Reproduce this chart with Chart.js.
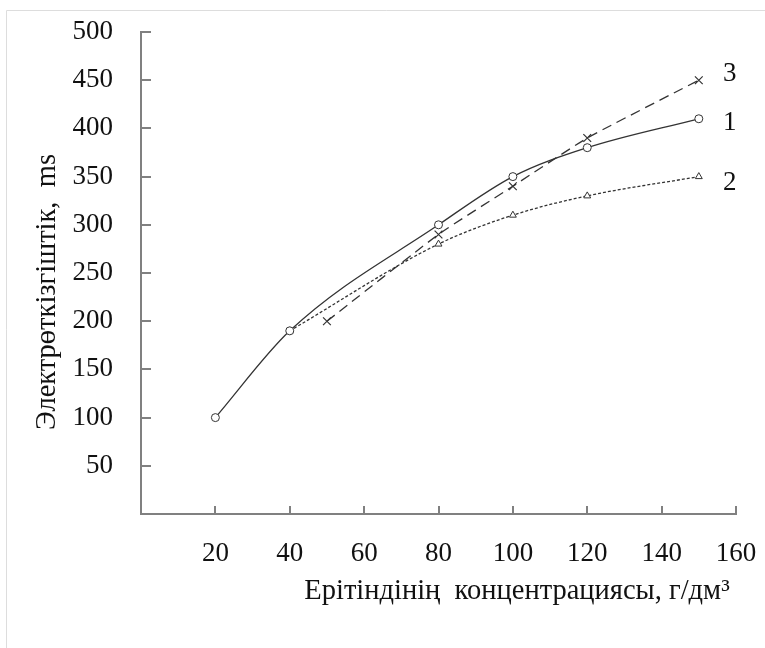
<!DOCTYPE html>
<html>
<head>
<meta charset="utf-8">
<script src="https://cdn.jsdelivr.net/npm/chart.js@4.4.0/dist/chart.umd.min.js"></script>
<style>
  body { margin: 0; background: #fff; }
  canvas { display: block; }
</style>
</head>
<body>
<canvas id="myChart" width="765" height="648"></canvas>
<script>
// curve 1 (circles, solid), curve 2 (triangles, dotted), curve 3 (crosses, dashed)
const conc1 = [20, 40, 80, 100, 120, 150];
const cond1 = [100, 190, 300, 350, 380, 410];
const conc2 = [40, 80, 100, 120, 150];
const cond2 = [190, 280, 310, 330, 350];
const conc3 = [50, 80, 100, 120, 150];
const cond3 = [200, 290, 340, 390, 450];
const curveTags = ['1', '2', '3'];
const xTitle = 'Ерітіндінің  концентрациясы, г/дм³';
const yTitle = 'Электрөткізгіштік,  ms';

const FONT = "'Liberation Serif', 'Times New Roman', serif";
const INK = '#333';
const AXIS = '#808080';

function pts(xs, ys) {
    return xs.map((x, i) => ({x: x, y: ys[i]}));
}

function noPad(s) {
    s.paddingTop = 0;
    s.paddingBottom = 0;
    s.paddingLeft = 0;
    s.paddingRight = 0;
}

const extras = {
    id: 'extras',
    beforeDraw(chart) {
        const ctx = chart.ctx;
        ctx.save();
        ctx.strokeStyle = '#ddd';
        ctx.lineWidth = 1;
        ctx.beginPath();
        ctx.moveTo(6.5, 700);
        ctx.lineTo(6.5, 10.5);
        ctx.lineTo(800, 10.5);
        ctx.stroke();
        ctx.restore();
    },
    afterDraw(chart) {
        const ctx = chart.ctx;
        const xs = chart.scales.x, ys = chart.scales.y;
        const area = chart.chartArea;
        ctx.save();
        // inward tick marks
        ctx.strokeStyle = AXIS;
        ctx.lineWidth = 2;
        ys.ticks.forEach(t => {
            if (t.value === 0) return;
            const py = Math.round(ys.getPixelForValue(t.value));
            ctx.beginPath();
            ctx.moveTo(area.left, py);
            ctx.lineTo(area.left + 10, py);
            ctx.stroke();
        });
        xs.ticks.forEach(t => {
            if (t.value === 0) return;
            const px = Math.round(xs.getPixelForValue(t.value));
            ctx.beginPath();
            ctx.moveTo(px, area.bottom);
            ctx.lineTo(px, area.bottom - 8);
            ctx.stroke();
        });
        // curve numbers next to last points
        ctx.fillStyle = '#111';
        ctx.font = '27px ' + FONT;
        ctx.textAlign = 'center';
        ctx.textBaseline = 'middle';
        const dy = [4, 6, -6];
        chart.data.datasets.forEach((ds, i) => {
            const meta = chart.getDatasetMeta(i);
            const last = meta.data[meta.data.length - 1];
            ctx.fillText(curveTags[i], last.x + 31, last.y + dy[i]);
        });
        // axis titles
        ctx.font = '28.5px ' + FONT;
        ctx.fillText(xTitle, 517, 592);
        ctx.translate(48, 292);
        ctx.rotate(-Math.PI / 2);
        ctx.fillText(yTitle, 0, 0);
        ctx.restore();
    }
};

new Chart(document.getElementById('myChart'), {
    type: 'line',
    data: {
        datasets: [{
            label: '1',
            data: pts(conc1, cond1),
            borderColor: INK,
            borderWidth: 1.3,
            pointStyle: 'circle',
            pointRadius: 4,
            pointBackgroundColor: '#fff',
            pointBorderColor: INK,
            pointBorderWidth: 1,
            cubicInterpolationMode: 'monotone'
        }, {
            label: '2',
            data: pts(conc2, cond2),
            borderColor: INK,
            borderWidth: 1.3,
            borderDash: [3, 2],
            pointStyle: 'triangle',
            pointRadius: 4,
            pointBackgroundColor: '#fff',
            pointBorderColor: INK,
            pointBorderWidth: 1,
            cubicInterpolationMode: 'monotone'
        }, {
            label: '3',
            data: pts(conc3, cond3),
            borderColor: INK,
            borderWidth: 1.3,
            borderDash: [10, 6],
            pointStyle: 'crossRot',
            pointRadius: 5.5,
            pointBorderColor: INK,
            pointBorderWidth: 1.2,
            tension: 0.15
        }]
    },
    options: {
        responsive: false,
        animation: false,
        layout: { padding: { left: 0, top: 32, right: 29, bottom: 0 } },
        plugins: {
            legend: { display: false },
            tooltip: { enabled: false }
        },
        scales: {
            x: {
                type: 'linear',
                min: 0,
                max: 160,
                afterFit: s => { s.height = 134; noPad(s); },
                grid: { display: false },
                border: { color: AXIS, width: 2 },
                ticks: {
                    stepSize: 20,
                    padding: 16,
                    color: '#111',
                    font: { family: FONT, size: 27 },
                    callback: v => v === 0 ? '' : v
                }
            },
            y: {
                min: 0,
                max: 500,
                afterFit: s => { s.width = 141; noPad(s); },
                grid: { display: false },
                border: { color: AXIS, width: 2 },
                ticks: {
                    stepSize: 50,
                    padding: 20,
                    color: '#111',
                    font: { family: FONT, size: 27 },
                    callback: v => v === 0 ? '' : v
                }
            }
        }
    },
    plugins: [extras]
});
</script>
</body>
</html>
